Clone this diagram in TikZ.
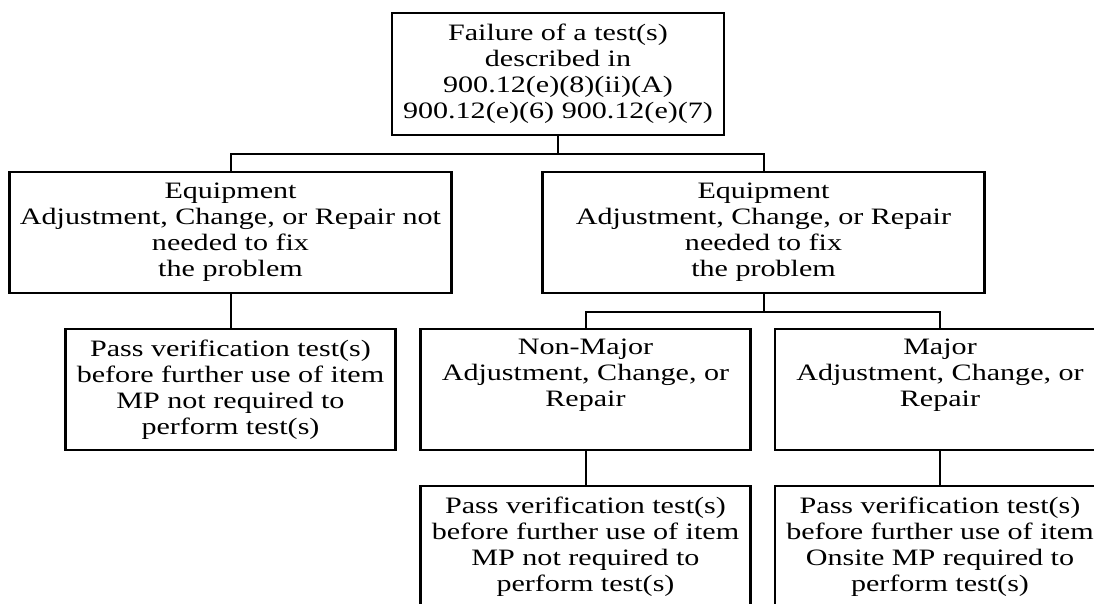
\documentclass[tikz,border=0pt]{standalone}
\usepackage{fontspec}
\setmainfont{Liberation Serif}[FakeStretch=1.28]
\begin{document}
\begin{tikzpicture}[
  x=1pt, y=1pt,
  block/.style={rectangle, draw, line width=2.2pt, align=center, inner sep=2pt, minimum height=121pt, font=\fontsize{23.5}{26}\selectfont},
  wide/.style={block, minimum width=442pt},
  narrow/.style={block, minimum width=330pt},
  link/.style={line width=2pt},
  node distance=157pt
]
\useasboundingbox (0,0) rectangle (1094,-603);
\clip (0,0) rectangle (1094,-603);

\node[narrow, minimum width=332pt, minimum height=122pt] (fail) at (558,-74) {Failure of a test(s)\\described in\\900.12(e)(8)(ii)(A)\\900.12(e)(6) 900.12(e)(7)};
\node[wide, below of=fail, node distance=158.5pt, xshift=-327.5pt] (nofix) {Equipment\\Adjustment, Change, or Repair not\\needed to fix\\the problem};
\node[wide, below of=fail, node distance=158.5pt, xshift=205.5pt] (fix) {Equipment\\Adjustment, Change, or Repair\\needed to fix\\the problem};
\node[narrow, below of=nofix] (passnofix) {Pass verification test(s)\\before further use of item\\MP not required to\\perform test(s)};
\node[narrow, below of=fix, xshift=-178pt] (minor) {Non-Major\\Adjustment, Change, or\\Repair\\\strut};
\node[narrow, right of=minor, node distance=354.5pt] (major) {Major\\Adjustment, Change, or\\Repair\\\strut};
\node[narrow, below of=minor] (passminor) {Pass verification test(s)\\before further use of item\\MP not required to\\perform test(s)};
\node[narrow, below of=major] (passmajor) {Pass verification test(s)\\before further use of item\\Onsite MP required to\\perform test(s)};

\draw[link] (fail.south) -- ++(0,-18) -| (nofix.north);
\draw[link] (fail.south) -- ++(0,-18) -| (fix.north);
\draw[link] (nofix.south) -- (passnofix.north);
\draw[link] (fix.south) -- ++(0,-18) -| (minor.north);
\draw[link] (fix.south) -- ++(0,-18) -| (major.north);
\draw[link] (minor.south) -- (passminor.north);
\draw[link] (major.south) -- (passmajor.north);
\end{tikzpicture}
\end{document}
